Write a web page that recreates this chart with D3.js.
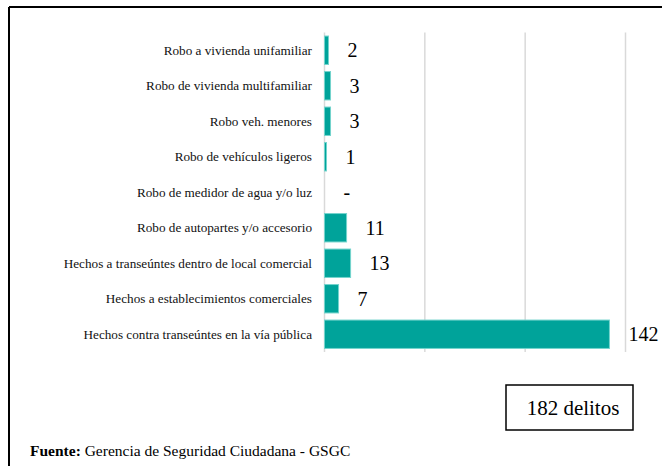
<!DOCTYPE html>
<html>
<head>
<meta charset="utf-8">
<script src="https://cdnjs.cloudflare.com/ajax/libs/d3/7.8.5/d3.min.js"></script>
<style>
  body { margin: 0; background: #fff; }
</style>
</head>
<body>
<svg></svg>
<script>
var WIDTH = 662;
var HEIGHT = 466;

var categories = [
  'Robo a vivienda unifamiliar',
  'Robo de vivienda multifamiliar',
  'Robo veh. menores',
  'Robo de vehículos ligeros',
  'Robo de medidor de agua y/o luz',
  'Robo de autopartes y/o accesorio',
  'Hechos a transeúntes dentro de local comercial',
  'Hechos a establecimientos comerciales',
  'Hechos contra transeúntes en la vía pública'
];
var values = [2, 3, 3, 1, 0, 11, 13, 7, 142];
var gridTicks = [0, 50, 100, 150];
var totalLabel = '182 delitos';

var FONT = "'Liberation Serif', 'Times New Roman', serif";

var svg = d3.select('svg')
  .attr('width', WIDTH)
  .attr('height', HEIGHT);

var xScale = d3.scaleLinear().domain([0, 150]).range([324, 625]);
var yScale = d3.scaleBand().domain(categories).range([32.5, 352])
  .paddingInner(0.2).paddingOuter(0.1);

// frame (top + left only)
svg.append('line').attr('x1', 9).attr('x2', WIDTH).attr('y1', 7).attr('y2', 7)
  .attr('stroke', '#000').attr('stroke-width', 2);
svg.append('line').attr('x1', 9).attr('x2', 9).attr('y1', 7).attr('y2', HEIGHT)
  .attr('stroke', '#000').attr('stroke-width', 2);

// gridlines
var grid = d3.axisBottom(xScale).tickValues(gridTicks).tickSize(-(352 - 32.5)).tickFormat('');
var g = svg.append('g').attr('transform', 'translate(0,352)').call(grid);
g.select('.domain').remove();
g.selectAll('line').attr('stroke', '#d9d9d9').attr('stroke-width', 1.5);

// bars
svg.selectAll('rect.bar').data(values).enter()
  .append('rect')
  .attr('class', 'bar')
  .attr('x', xScale(0) + 0.5)
  .attr('y', function(d, i) { return yScale(categories[i]); })
  .attr('width', function(d) { return Math.max(0, xScale(d) - xScale(0)); })
  .attr('height', yScale.bandwidth())
  .attr('fill', '#00a39a')
  .attr('stroke', function(d) { return d > 0 ? '#74d4cd' : 'none'; })
  .attr('stroke-width', 1);

// category labels
svg.selectAll('text.cat').data(categories).enter()
  .append('text')
  .attr('class', 'cat')
  .attr('x', 312)
  .attr('y', function(d) { return yScale(d) + yScale.bandwidth() / 2; })
  .attr('dy', '0.35em')
  .attr('text-anchor', 'end')
  .style('font-family', FONT)
  .style('font-size', '13.2px')
  .attr('fill', '#111')
  .text(function(d) { return d; });

// value labels
svg.selectAll('text.val').data(values).enter()
  .append('text')
  .attr('class', 'val')
  .attr('x', function(d) { return xScale(d) + 19.5; })
  .attr('y', function(d, i) { return yScale(categories[i]) + yScale.bandwidth() / 2; })
  .attr('dy', '0.35em')
  .style('font-family', FONT)
  .style('font-size', '20px')
  .attr('fill', '#000')
  .text(function(d) { return d === 0 ? '-' : d; });

// total box
svg.append('rect').attr('x', 506).attr('y', 385).attr('width', 127).attr('height', 45)
  .attr('fill', '#fff').attr('stroke', '#000').attr('stroke-width', 1.5);
svg.append('text').attr('x', 573).attr('y', 408).attr('dy', '0.35em')
  .attr('text-anchor', 'middle')
  .style('font-family', FONT).style('font-size', '21px')
  .text(totalLabel);

// source
var src = svg.append('text').attr('x', 30).attr('y', 456)
  .style('font-family', FONT).style('font-size', '15.5px');
src.append('tspan').attr('font-weight', 'bold').text('Fuente:');
src.append('tspan').text(' Gerencia de Seguridad Ciudadana - GSGC');
</script>
</body>
</html>
